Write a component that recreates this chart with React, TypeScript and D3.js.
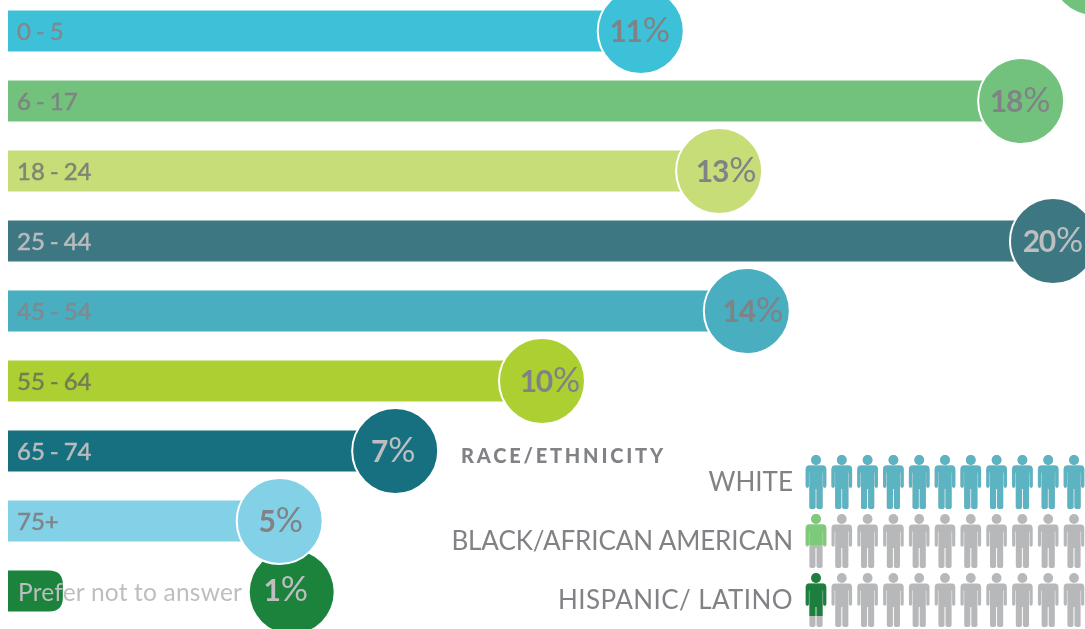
import React from "react";
import * as d3 from "d3";

const ageGroups = ["0 - 5", "6 - 17", "18 - 24", "25 - 44", "45 - 54", "55 - 64", "65 - 74", "75+"];
const agePercents = [11, 18, 13, 20, 14, 10, 7, 5];
// Pictured reach of each bar, as the picture's bars are not proportional to their labels
const ageReach = [12.11, 19.39, 13.61, 20, 14.14, 10.22, 7.41, 5.2];
const ageColors = ["#3dc1d8", "#72c27e", "#c6dd78", "#3d7882", "#48aebf", "#acd033", "#15707f", "#82d1e7"];
const labelColors = ["#7f8a90", "#7d8580", "#7f8573", "#b9bcbd", "#7f8a90", "#757d55", "#b9bcbd", "#7f8488"];
const pctColors = ["#808285", "#808285", "#808285", "#bcbec0", "#808285", "#808285", "#bcbec0", "#808285"];
const pctNudge = [0, 0, 8, 1, 7, 9, -1, 2];

const otherLabel = "Prefer not to answer";
const otherPercent = 1;
const otherBarReach = 1.05;
const otherCircleReach = 5.43;
const otherColor = "#1c833e";

const raceNames = ["WHITE", "BLACK/AFRICAN AMERICAN", "HISPANIC/ LATINO"];
const raceTracking = [0, -0.1, 0.4];
const raceFirstFill = [1, 0.58, 0.8];
const raceOtherFill = [1, 0, 0];
const raceColors = ["#5bb3c2", "#7dcb78", "#1c7f3c"];
const peopleSlots = d3.range(11);

const x = d3.scaleLinear().domain([0, 20]).range([8, 1053]);
const rowY = d3.scaleLinear().domain([0, 8]).range([31, 591]);
const personX = d3.scaleLinear().domain([0, 10]).range([816, 1074]);
const raceY = d3.scaleLinear().domain([0, 2]).range([455, 573]);

const FONT = "Lato, 'Open Sans', sans-serif";
const R = 42;
const BAR_H = 41;
const PERSON_H = 54;

const personBody =
  "M-7,10.5 H7 Q10.3,10.5 10.3,14.5 V31 Q10.3,32.8 8.7,32.8 Q7.1,32.8 7.1,31 V17.5 H6.6 V52 Q6.6,54 3.7,54 Q0.5,54 0.5,52 V34 H-0.5 V52 Q-0.5,54 -3.7,54 Q-6.6,54 -6.6,52 V17.5 H-7.1 V31 Q-7.1,32.8 -8.7,32.8 Q-10.3,32.8 -10.3,31 V14.5 Q-10.3,10.5 -7,10.5 Z";

function Person({ cx, top, fill, color, id }: { cx: number; top: number; fill: number; color: string; id: string }) {
  const shape = (
    <>
      <circle cx={0} cy={5} r={4.9} />
      <path d={personBody} />
    </>
  );
  return (
    <g transform={`translate(${cx},${top})`}>
      <g fill="#b7b8ba">{shape}</g>
      {fill > 0 && (
        <>
          <clipPath id={id}>
            <rect x={-12} y={-1} width={24} height={(PERSON_H + 1) * fill} />
          </clipPath>
          <g fill={color} clipPath={`url(#${id})`}>{shape}</g>
        </>
      )}
    </g>
  );
}

function Pct({ cx, cy, value, color }: { cx: number; cy: number; value: number; color: string }) {
  return (
    <text x={cx} y={cy + 11} textAnchor="middle" fontFamily={FONT} fill={color}>
      <tspan fontWeight={700} fontSize={30} letterSpacing={-1.2}>{value}</tspan>
      <tspan fontWeight={400} fontSize={34} dx={1}>%</tspan>
    </text>
  );
}

export default function App() {
  return (
    <svg width={1085} height={629} style={{ position: "fixed", left: 0, top: 0, background: "#fff" }}>
      <defs>
        <filter id="soft" x="0" y="0" width="100%" height="100%">
          <feGaussianBlur stdDeviation="0.45" />
        </filter>
      </defs>
      <g filter="url(#soft)">
        <circle cx={1094} cy={-27} r={R} fill="#72c27e" />

        {/* Prefer not to answer */}
        <path
          d={`M${x(0)},${rowY(8) - BAR_H / 2} H${x(otherBarReach) - 14} Q${x(otherBarReach)},${rowY(8) - BAR_H / 2} ${x(otherBarReach)},${rowY(8) - BAR_H / 2 + 14} V${rowY(8) + BAR_H / 2 - 14} Q${x(otherBarReach)},${rowY(8) + BAR_H / 2} ${x(otherBarReach) - 14},${rowY(8) + BAR_H / 2} H${x(0)} Z`}
          fill={otherColor}
        />
        <circle cx={x(otherCircleReach)} cy={rowY(8) + 1} r={R} fill={otherColor} />
        <text x={18} y={rowY(8) + 10} fontFamily={FONT} fontSize={24.5} fill="#bcbec0" letterSpacing={0.2}>
          {otherLabel}
        </text>
        <Pct cx={x(otherCircleReach) - 6} cy={rowY(8) - 1} value={otherPercent} color="#bcbec0" />

        {/* Age bars */}
        {ageGroups.map((g, i) => {
          const cx = x(ageReach[i]);
          const cy = rowY(i);
          return (
            <g key={g}>
              <rect x={x(0)} y={cy - BAR_H / 2} width={cx - x(0)} height={BAR_H} fill={ageColors[i]} />
              <circle cx={cx} cy={cy} r={R + 1} fill={ageColors[i]} stroke="#fff" strokeWidth={2} />
              <text
                x={17}
                y={cy + 9}
                fontFamily={FONT}
                fontWeight={400}
                fontSize={24}
                wordSpacing={-1.2}
                fill={labelColors[i]}
                stroke={labelColors[i]}
                strokeWidth={0.5}
              >
                {g}
              </text>
              <Pct cx={cx - 1 + pctNudge[i]} cy={cy} value={agePercents[i]} color={pctColors[i]} />
            </g>
          );
        })}

        {/* Race / ethnicity */}
        <text x={461} y={463} fontFamily={FONT} fontWeight={900} fontSize={20} letterSpacing={2.8} fill="#808285">
          RACE/ETHNICITY
        </text>
        {raceNames.map((name, r) => (
          <g key={name}>
            <text
              x={793}
              y={raceY(r) + 36}
              textAnchor="end"
              fontFamily={FONT}
              fontWeight={400}
              fontSize={26}
              letterSpacing={raceTracking[r]}
              fill="#808285"
            >
              {name}
            </text>
            {peopleSlots.map((p) => (
              <Person
                key={p}
                id={`clip-${r}-${p}`}
                cx={personX(p)}
                top={raceY(r)}
                fill={p === 0 ? raceFirstFill[r] : raceOtherFill[r]}
                color={raceColors[r]}
              />
            ))}
          </g>
        ))}
      </g>
    </svg>
  );
}
